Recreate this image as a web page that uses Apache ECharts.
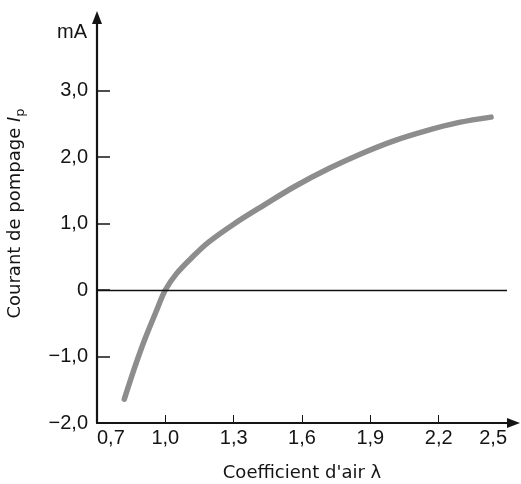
<!DOCTYPE html>
<html>
<head>
<meta charset="utf-8">
<script src="https://cdn.jsdelivr.net/npm/echarts@6/dist/echarts.min.js"></script>
<style>
html,body{margin:0;padding:0;background:#fff;}
#c{width:521px;height:484px;}
</style>
</head>
<body>
<div id="c"></div>
<script>
// Data
const lambdaValues = [0.82, 0.87, 0.91, 0.96, 1.0, 1.05, 1.12, 1.19, 1.3, 1.43, 1.57, 1.72, 1.86, 2.0, 2.14, 2.29, 2.43];
const pumpCurrent = [-1.64, -1.12, -0.74, -0.32, 0.0, 0.25, 0.5, 0.72, 0.99, 1.27, 1.56, 1.83, 2.05, 2.24, 2.39, 2.52, 2.6];
const xTicks = [0.7, 1.0, 1.3, 1.6, 1.9, 2.2, 2.5];
const xTickLabels = ['0,7', '1,0', '1,3', '1,6', '1,9', '2,2', '2,5'];
const yTicks = [-2, -1, 0, 1, 2, 3];
const yTickLabels = ['\u22122,0', '\u22121,0', '0', '1,0', '2,0', '3,0'];

const seriesData = lambdaValues.map((l, i) => [l, pumpCurrent[i]]);
const ink = '#141414';
const labelFont = 'Liberation Sans';

const chart = echarts.init(document.getElementById('c'), null, {renderer: 'canvas'});
chart.setOption({
  animation: false,
  backgroundColor: '#ffffff',
  grid: {left: 97, right: 14, top: 24, bottom: 61, containLabel: false, outerBoundsMode: 'none'},
  xAxis: {
    type: 'value',
    min: 0.7, max: 2.5,
    splitLine: {show: false},
    axisLine: {show: true, onZero: false, lineStyle: {color: ink, width: 2.2},
      symbol: ['none', 'triangle'], symbolSize: [10, 13], symbolOffset: [0, 6.5]},
    axisTick: {show: true, inside: true, length: 8, lineStyle: {color: ink, width: 1},
      customValues: xTicks.slice(1, -1)},
    axisLabel: {
      customValues: xTicks,
      formatter: v => xTickLabels[xTicks.findIndex(t => Math.abs(t - v) < 1e-6)],
      alignMinLabel: 'left', alignMaxLabel: 'right',
      margin: 5, color: ink, fontFamily: labelFont, fontSize: 20
    },
    name: "Coefficient d'air \u03bb",
    nameLocation: 'middle', nameGap: 41,
    nameTextStyle: {color: ink, fontFamily: 'DejaVu Sans', fontSize: 18}
  },
  yAxis: [{
    type: 'value',
    min: -2, max: 4, interval: 1,
    splitLine: {show: false},
    axisLine: {show: true, onZero: false, lineStyle: {color: ink, width: 2.2},
      symbol: ['none', 'triangle'], symbolSize: [10, 13], symbolOffset: [0, 6.5]},
    axisTick: {show: true, inside: true, length: 13, lineStyle: {color: ink, width: 1.5},
      customValues: yTicks.slice(1)},
    axisLabel: {
      customValues: yTicks,
      formatter: v => yTickLabels[yTicks.findIndex(t => Math.abs(t - v) < 1e-6)],
      margin: 9, color: ink, fontFamily: labelFont, fontSize: 20
    },
    name: 'mA',
    nameLocation: 'end', nameGap: -8,
    nameTextStyle: {color: ink, fontFamily: labelFont, fontSize: 20,
      align: 'right', verticalAlign: 'middle', padding: [0, 10, 0, 0]}
  }, {
    type: 'value', position: 'left', min: -2, max: 4,
    axisLine: {show: false}, axisTick: {show: false}, axisLabel: {show: false}, splitLine: {show: false},
    name: 'Courant de pompage {i|I}{s|p}',
    nameLocation: 'middle', nameGap: 70, nameRotate: 90,
    nameTextStyle: {color: ink, fontFamily: 'DejaVu Sans', fontSize: 18, padding: [0, 0, 0, 20],
      rich: {
        i: {fontFamily: 'DejaVu Sans', fontSize: 18, fontStyle: 'italic', color: ink},
        s: {fontFamily: 'DejaVu Sans', fontSize: 13, color: ink, verticalAlign: 'bottom', padding: [10, 0, 0, 0]}
      }}
  }],
  series: [{
    type: 'line',
    yAxisIndex: 0,
    data: seriesData,
    smooth: 0.35,
    showSymbol: false,
    lineStyle: {color: '#8d8d8d', width: 5.5, cap: 'round', join: 'round'},
    markLine: {
      silent: true,
      symbol: ['none', 'none'],
      label: {show: false},
      lineStyle: {color: '#111', width: 1.4, type: 'solid'},
      data: [{yAxis: 0}]
    },
    z: 3
  }]
});
</script>
</body>
</html>
